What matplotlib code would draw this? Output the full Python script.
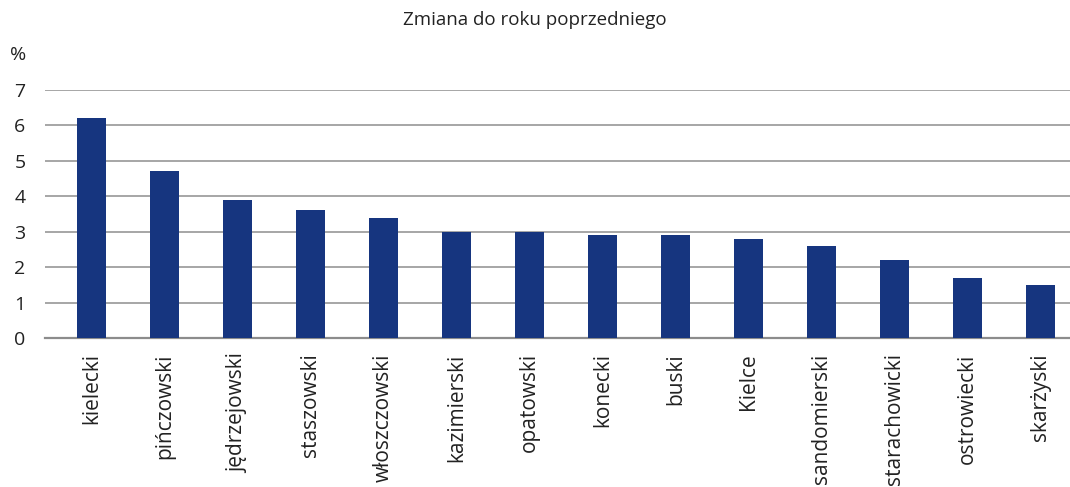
import matplotlib
matplotlib.use("Agg")
import matplotlib.pyplot as plt

# data
powiaty = ["kielecki", "pińczowski", "jędrzejowski", "staszowski", "włoszczowski",
           "kazimierski", "opatowski", "konecki", "buski", "Kielce",
           "sandomierski", "starachowicki", "ostrowiecki", "skarżyski"]
zmiana = [6.2, 4.7, 3.9, 3.6, 3.4, 3.0, 3.0, 2.9, 2.9, 2.8, 2.6, 2.2, 1.7, 1.5]
y_ticks = [0, 1, 2, 3, 4, 5, 6, 7]

plt.rcParams['font.family'] = ['Open Sans', 'DejaVu Sans']

fig = plt.figure(figsize=(10.7, 4.87), dpi=100)
ax = fig.add_axes([45 / 1070, 1 - 338 / 487, 1 - 45 / 1070, (338 - 90) / 487])

x = range(len(powiaty))
ax.bar(x, zmiana, width=0.4, color="#16357f", zorder=3)

ax.set_xlim(-0.64, 13.4)
ax.set_ylim(0, 7)
ax.set_yticks(y_ticks)
ax.set_xticks(list(x))
ax.set_xticklabels(powiaty, rotation=90, fontsize=15, color="#222222")
ax.tick_params(axis='y', length=0, pad=14, labelsize=14, labelcolor="#222222")
ax.tick_params(axis='x', length=0, pad=11)

ax.grid(axis='y', color="#a6a6a6", linewidth=1.4, zorder=0)
for side in ["top", "right", "left"]:
    ax.spines[side].set_visible(False)
ax.spines["bottom"].set_color("#8c8c8c")
ax.spines["bottom"].set_linewidth(1.6)

fig.text(0.5, 1 - 20 / 487, "Zmiana do roku poprzedniego", ha="center", va="center",
         fontsize=13.5, color="#222222")
fig.text(18 / 1070, 1 - 55 / 487, "%", ha="center", va="center", fontsize=14, color="#222222")

fig.savefig("out.png", dpi=100)
